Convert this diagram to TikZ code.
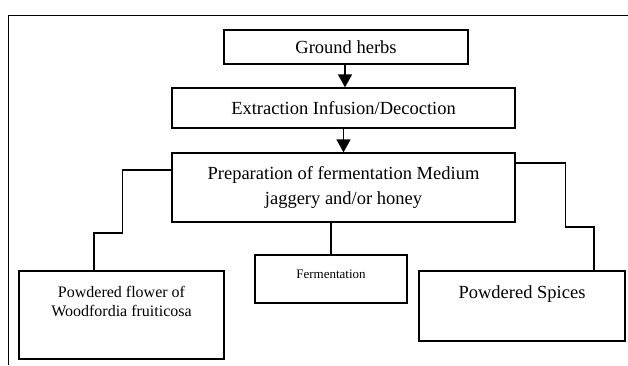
\documentclass[tikz,border=0pt]{standalone}
\usepackage{fontspec}
\setmainfont{Liberation Serif}
\usetikzlibrary{arrows.meta}
\begin{document}
\begin{tikzpicture}[x=1pt,y=-1pt,
  box/.style={draw, line width=1.3pt, inner sep=0pt, align=center, font=\fontsize{18.5}{24.5}\selectfont},
  flow/.style={-{Triangle[width=14pt,length=13pt]}, line width=1.4pt},
  link/.style={line width=1.3pt}]
  \useasboundingbox (0,0) rectangle (628,365);
  \draw[line width=1pt] (8,365) -- (8,15) -- (628,15);
  % main chain
  \node[box, minimum width=244pt, minimum height=34pt] (herbs) at (346,47) {Ground herbs};
  \node[box, minimum width=343pt, minimum height=40pt] (extract) at (343.5,108) {Extraction Infusion/Decoction};
  \node[box, minimum width=343pt, minimum height=69pt] (prep) at (343.5,187.5) {Preparation of fermentation Medium\\jaggery and/or honey};
  % lower boxes
  \node[box, minimum width=205pt, text height=26pt, text depth=62pt, font=\fontsize{16}{19.5}\selectfont] (flower) at (121.5,315)
    {\begin{tabular}[t]{@{}c@{}}Powdered flower of\\Woodfordia fruiticosa\end{tabular}};
  \node[box, minimum width=152pt, text height=23pt, text depth=25pt, font=\fontsize{13}{15}\selectfont] (ferm) at (331,279) {Fermentation};
  \node[box, minimum width=206pt, text height=27pt, text depth=43pt] (spices) at (522,306) {Powdered Spices};
  \draw[flow] (herbs.south -| 345,0) -- (extract.north -| 345,0);
  \draw[flow] (extract.south) -- (prep.north);
  \draw[link] ([yshift=17.5pt]prep.west) -- ++(-49,0) -- ++(0,63) -| ([xshift=-27.5pt]flower.north);
  \draw[link] (ferm.north |- prep.south) -- (ferm.north);
  \draw[link] ([yshift=24.5pt]prep.east) -- ++(50,0) -- ++(0,64) -| ([xshift=72pt]spices.north);
\end{tikzpicture}
\end{document}
